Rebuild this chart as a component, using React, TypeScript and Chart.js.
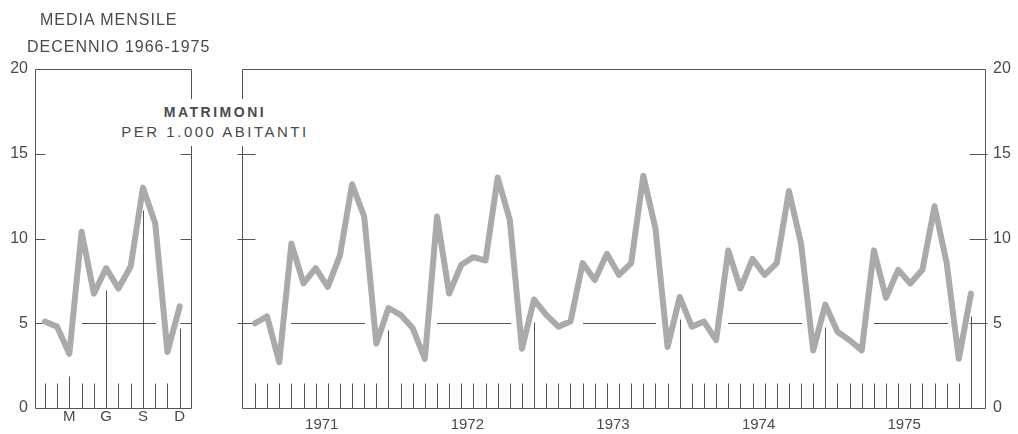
import React, { useEffect, useRef } from "react";
import { Chart, registerables } from "chart.js";

Chart.register(...registerables);

// ---- data ----
const MONTHLY_AVG_1966_1975 = [5.1, 4.8, 3.2, 10.4, 6.75, 8.25, 7.05, 8.35, 13.0, 10.9, 3.3, 6.0];
const MONTH_TICK_POS = [2, 5, 8, 11];
const MONTH_TICK_LABELS = ["M", "G", "S", "D"];

const YEARS = ["1971", "1972", "1973", "1974", "1975"];
const Y1971 = [5.0, 5.4, 2.7, 9.7, 7.35, 8.25, 7.15, 9.0, 13.2, 11.3, 3.8, 5.9];
const Y1972 = [5.5, 4.7, 2.9, 11.3, 6.75, 8.45, 8.9, 8.7, 13.6, 11.1, 3.5, 6.4];
const Y1973 = [5.5, 4.8, 5.1, 8.55, 7.55, 9.1, 7.85, 8.55, 13.7, 10.6, 3.6, 6.55];
const Y1974 = [4.8, 5.1, 4.0, 9.3, 7.05, 8.8, 7.85, 8.55, 12.8, 9.7, 3.4, 6.1];
const Y1975 = [4.5, 4.0, 3.4, 9.3, 6.5, 8.15, 7.35, 8.15, 11.9, 8.55, 2.9, 6.75];
const MONTHLY_1971_1975 = [...Y1971, ...Y1972, ...Y1973, ...Y1974, ...Y1975];

const Y_TICKS = [0, 5, 10, 15, 20];
const Y_MIN = 0;
const Y_MAX = 20;

// ---- style ----
const INK = "#4a4a4a";
const RULE = "#555555";
const CURVE = "#aaaaaa";
const FONT = "'Liberation Sans', Arial, sans-serif";
const TICK_H = 1.5; // in value units
const DROP_GAP = 1.3; // drop lines stop below the curve
const REF_LINE = 5;
const REF_MIN = 6; // reference line drawn where the curve stays above this

type DecorCfg = {
  data: number[];
  drops: (i: number) => boolean;
  leftIn: number;
  leftOut: number;
  rightIn: number;
  rightOut: number;
};

function decorPlugin(cfg: DecorCfg) {
  return {
    id: "decor",
    beforeDatasetsDraw(chart: any) {
      const { ctx, chartArea: a, scales } = chart;
      const x = scales.x;
      const y = scales.y;
      const px = (v: number) => Math.round(x.getPixelForValue(v)) + 0.5;
      const py = (v: number) => Math.round(y.getPixelForValue(v)) + 0.5;
      const line = (x1: number, y1: number, x2: number, y2: number) => {
        ctx.beginPath();
        ctx.moveTo(x1, y1);
        ctx.lineTo(x2, y2);
        ctx.stroke();
      };
      ctx.save();
      ctx.strokeStyle = RULE;
      ctx.lineWidth = 1;
      const L = Math.round(a.left) + 0.5;
      const R = Math.round(a.right) - 0.5;
      const T = py(Y_MAX);
      const B = py(Y_MIN);
      // frame
      line(L, T, R, T);
      line(L, B, R, B);
      line(L, T, L, B);
      line(R, T, R, B);
      // edge ticks
      Y_TICKS.filter((v) => v > Y_MIN && v < Y_MAX).forEach((v) => {
        const yy = py(v);
        line(L - cfg.leftOut, yy, L + cfg.leftIn, yy);
        line(R - cfg.rightIn, yy, R + cfg.rightOut, yy);
      });
      // month ticks & drop lines
      cfg.data.forEach((v, i) => {
        const xx = px(i);
        if (cfg.drops(i)) line(xx, B, xx, py(v - DROP_GAP));
        else line(xx, B, xx, py(TICK_H));
      });
      // reference line at 5 (only where curve is clear of it)
      for (let i = 0; i < cfg.data.length - 1; i++) {
        if (cfg.data[i] >= REF_MIN && cfg.data[i + 1] >= REF_MIN) {
          line(px(i) - 0.5, py(REF_LINE), px(i + 1) + 0.5, py(REF_LINE));
        }
      }
      ctx.restore();
    },
  };
}

function makeChart(
  canvas: HTMLCanvasElement,
  data: number[],
  opts: {
    xMin: number;
    xMax: number;
    xTicks: number[];
    xLabels: string[];
    xPad: number;
    yPos: "left" | "right";
    yWidth: number;
    padding: any;
    decor: DecorCfg;
  }
) {
  return new Chart(canvas, {
    type: "line",
    data: {
      datasets: [
        {
          data: data.map((v, i) => ({ x: i, y: v })),
          borderColor: CURVE,
          borderWidth: 6,
          pointRadius: 0,
          tension: 0,
          borderJoinStyle: "round",
          borderCapStyle: "round",
          fill: false,
        },
      ],
    },
    options: {
      responsive: false,
      animation: false,
      events: [],
      layout: { padding: opts.padding },
      plugins: { legend: { display: false }, tooltip: { enabled: false }, title: { display: false } },
      scales: {
        x: {
          type: "linear",
          min: opts.xMin,
          max: opts.xMax,
          grid: { display: false, drawTicks: false },
          border: { display: false },
          afterBuildTicks: (s: any) => {
            s.ticks = opts.xTicks.map((v) => ({ value: v }));
          },
          afterFit: (s: any) => {
            s.height = 26;
          },
          ticks: {
            autoSkip: false,
            maxRotation: 0,
            padding: opts.xPad,
            color: INK,
            font: { family: FONT, size: 15 },
            callback: (v: any) => {
              const k = opts.xTicks.indexOf(Number(v));
              return k >= 0 ? opts.xLabels[k] : "";
            },
          },
        },
        y: {
          position: opts.yPos,
          min: Y_MIN,
          max: Y_MAX,
          grid: { display: false, drawTicks: false },
          border: { display: false },
          afterBuildTicks: (s: any) => {
            s.ticks = Y_TICKS.map((v) => ({ value: v }));
          },
          afterFit: (s: any) => {
            s.width = opts.yWidth;
          },
          ticks: {
            padding: 7,
            color: INK,
            font: { family: FONT, size: 16 },
          },
        },
      },
    } as any,
    plugins: [decorPlugin(opts.decor)],
  });
}

export default function App() {
  const leftRef = useRef<HTMLCanvasElement>(null);
  const rightRef = useRef<HTMLCanvasElement>(null);

  useEffect(() => {
    const left = makeChart(leftRef.current!, MONTHLY_AVG_1966_1975, {
      xMin: -0.8,
      xMax: 12.0,
      xTicks: MONTH_TICK_POS,
      xLabels: MONTH_TICK_LABELS,
      xPad: 0,
      yPos: "left",
      yWidth: 35,
      padding: { top: 69, right: 38, left: 0, bottom: 0 },
      decor: {
        data: MONTHLY_AVG_1966_1975,
        drops: (i) => MONTH_TICK_POS.includes(i),
        leftIn: 10,
        leftOut: 0,
        rightIn: 11,
        rightOut: 0,
      },
    });
    const yearCenters = YEARS.map((_, k) => k * 12 + 5.5);
    const right = makeChart(rightRef.current!, MONTHLY_1971_1975, {
      xMin: -1.07,
      xMax: 60.24,
      xTicks: yearCenters,
      xLabels: YEARS,
      xPad: 8,
      yPos: "right",
      yWidth: 32,
      padding: { top: 69, right: 0, left: 12, bottom: 0 },
      decor: {
        data: MONTHLY_1971_1975,
        drops: (i) => i % 12 === 11,
        leftIn: 13,
        leftOut: 5,
        rightIn: 16,
        rightOut: 2,
      },
    });
    return () => {
      left.destroy();
      right.destroy();
    };
  }, []);

  const text: React.CSSProperties = {
    position: "absolute",
    color: INK,
    fontFamily: FONT,
    whiteSpace: "nowrap",
  };

  return (
    <div style={{ position: "absolute", left: 0, top: 0, width: 1018, height: 434, background: "#fff", overflow: "hidden" }}>
      <canvas ref={leftRef} width={230} height={434} style={{ position: "absolute", left: 0, top: 0, display: "block" }} />
      <canvas ref={rightRef} width={788} height={434} style={{ position: "absolute", left: 230, top: 0, display: "block" }} />
      <div style={{ ...text, left: 40, top: 11, fontSize: 16, lineHeight: "18px", letterSpacing: 1 }}>MEDIA MENSILE</div>
      <div style={{ ...text, left: 27, top: 38, fontSize: 16, lineHeight: "18px", letterSpacing: 1 }}>DECENNIO 1966-1975</div>
      <div
        style={{
          ...text,
          left: 110,
          top: 99,
          width: 210,
          textAlign: "center",
          background: "#fff",
          paddingTop: 4,
          paddingBottom: 5,
        }}
      >
        <div style={{ fontSize: 14, fontWeight: 700, letterSpacing: 2.5, lineHeight: "19px" }}>MATRIMONI</div>
        <div style={{ fontSize: 15, letterSpacing: 2.5, lineHeight: "19px" }}>PER 1.000 ABITANTI</div>
      </div>
    </div>
  );
}
